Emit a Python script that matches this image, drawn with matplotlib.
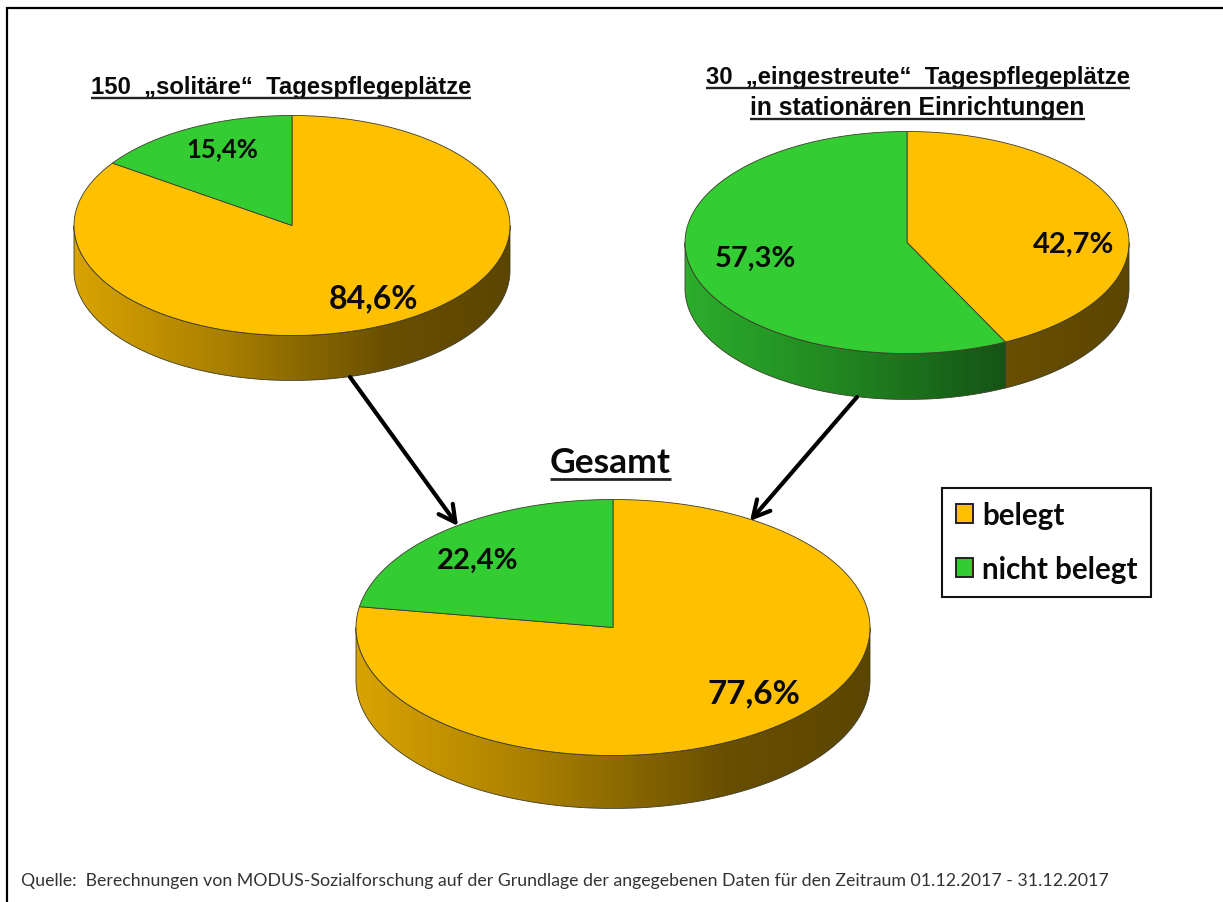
import numpy as np
import matplotlib
matplotlib.use("Agg")
import matplotlib.pyplot as plt
from matplotlib.patches import Polygon, Patch
from matplotlib.colors import to_rgb

# ---- data ----
categories = ["belegt", "nicht belegt"]
solitaer = [84.6, 15.4]
eingestreut = [42.7, 57.3]
gesamt = [77.6, 22.4]
title_solitaer = "150  „solitäre“  Tagespflegeplätze"
title_eingestreut = ["30  „eingestreute“  Tagespflegeplätze", "in stationären Einrichtungen"]
title_gesamt = "Gesamt"
source = ("Quelle:  Berechnungen von MODUS-Sozialforschung auf der Grundlage der angegebenen "
          "Daten für den Zeitraum 01.12.2017 - 31.12.2017")

# ---- style ----
W, H = 1223, 903
colors = ["#FFC000", "#33CC33"]
edge = "#3c3c28"
label_font = "Lato"
title_font = "Liberation Sans"

fig = plt.figure(figsize=(W / 100, H / 100), dpi=100, facecolor="white")
ax = fig.add_axes([0, 0, 1, 1])


def reset():
    ax.set_xlim(0, W)
    ax.set_ylim(H, 0)
    ax.axis("off")


reset()


def rim_point(cx, cy, rx, ry, deg):
    t = np.radians(deg)
    return cx + rx * np.sin(t), cy - ry * np.cos(t)


def pie3d(values, cx, cy, rx, ry, depth, label_pos, label_size):
    total = sum(values)
    start = 0.0
    factor_x = [0.0, 0.35, 0.72, 1.0]
    factor_y = [0.85, 0.66, 0.41, 0.36]
    for val, col in zip(values, colors):
        end = start + 360.0 * val / total
        # side wall: visible part of the rim is the front half
        a, b = max(start, 90.0), min(end, 270.0)
        if b > a:
            th = np.linspace(a, b, 200)
            x, y = rim_point(cx, cy, rx, ry, th)
            pts = np.r_[np.c_[x, y], np.c_[x[::-1], y[::-1] + depth]]
            poly = Polygon(pts, closed=True, facecolor="none", edgecolor=edge, lw=0.6, zorder=2.1)
            ax.add_patch(poly)
            grad_pos = np.linspace(0, 1, 256)
            f = np.interp(grad_pos, factor_x, factor_y)
            rgb = np.array(to_rgb(col))
            img = (f[:, None] * rgb)[None, :, :]
            im = ax.imshow(img, extent=(cx - rx, cx + rx, cy + ry + depth, cy - ry),
                           aspect="auto", zorder=2, interpolation="bilinear")
            im.set_clip_path(poly)
        start = end
    start = 0.0
    for val, col, (lx, ly), fs in zip(values, colors, label_pos, label_size):
        end = start + 360.0 * val / total
        th = np.linspace(start, end, 300)
        x, y = rim_point(cx, cy, rx, ry, th)
        pts = np.r_[[[cx, cy]], np.c_[x, y]]
        ax.add_patch(Polygon(pts, closed=True, facecolor=col, edgecolor=edge, lw=0.6, zorder=3))
        ax.text(lx, ly, f"{val:.1f}%".replace(".", ","), fontfamily=label_font, fontweight="bold",
                fontsize=fs, color="#0a0a0a", ha="center", va="center", zorder=5)
        start = end
    reset()


def underlined(x, y, text, font, size, ul_y, lw):
    t = ax.text(x, y, text, fontfamily=font, fontweight="bold", fontsize=size,
                color="#0a0a0a", ha="center", va="center", zorder=6)
    bb = t.get_window_extent(fig.canvas.get_renderer())
    ax.plot([bb.x0, bb.x1], [ul_y, ul_y], color="#222222", lw=lw, solid_capstyle="butt", zorder=6)


# frame: only top and left lines reach inside the picture
ax.plot([7, 7, W], [H, 9, 9], color="black", lw=1.6, solid_joinstyle="miter", zorder=1)

pie3d(solitaer, 292, 226.5, 218, 110, 45, [(373, 299), (222, 149)], [23, 18.5])
pie3d(eingestreut, 907, 243.5, 222, 111, 46, [(1074, 244.5), (755, 258.5)], [21, 21])
pie3d(gesamt, 613, 628.5, 257, 128, 53, [(754, 694), (478, 560.5)], [24, 21])

underlined(281, 87.5, title_solitaer, title_font, 17.2, 98.5, 1.7)
underlined(917.5, 77.5, title_eingestreut[0], title_font, 17.2, 88.5, 1.7)
underlined(917.5, 108.5, title_eingestreut[1], title_font, 17.8, 119.5, 1.7)
underlined(610, 463, title_gesamt, label_font, 25.5, 480, 2.0)

arrow = dict(arrowstyle="->,head_length=0.85,head_width=0.45", color="black", lw=3.0,
             shrinkA=0, shrinkB=0, mutation_scale=14)
ax.annotate("", xy=(458, 527), xytext=(350, 378), arrowprops=arrow, zorder=7)
ax.annotate("", xy=(750, 522), xytext=(857, 398), arrowprops=arrow, zorder=7)

handles = [Patch(facecolor=c, edgecolor="#222222", lw=1.4) for c in colors]
leg = ax.legend(handles, categories, loc="upper left",
                bbox_to_anchor=(942 / W, 1 - 488.5 / H), bbox_transform=fig.transFigure,
                borderaxespad=0, frameon=True, fancybox=False, edgecolor="#111111", framealpha=1,
                prop={"family": label_font, "weight": "bold", "size": 21.3},
                handlelength=0.6, handleheight=0.6, handletextpad=0.3,
                labelspacing=0.88, borderpad=0.46)
leg.get_frame().set_linewidth(1.5)
for txt in leg.get_texts():
    txt.set_color("#0a0a0a")

ax.text(21, 881, source, fontfamily=label_font, fontsize=12.78, color="#333333", ha="left", va="center")

reset()
fig.savefig("out.png", dpi=100, facecolor="white")
